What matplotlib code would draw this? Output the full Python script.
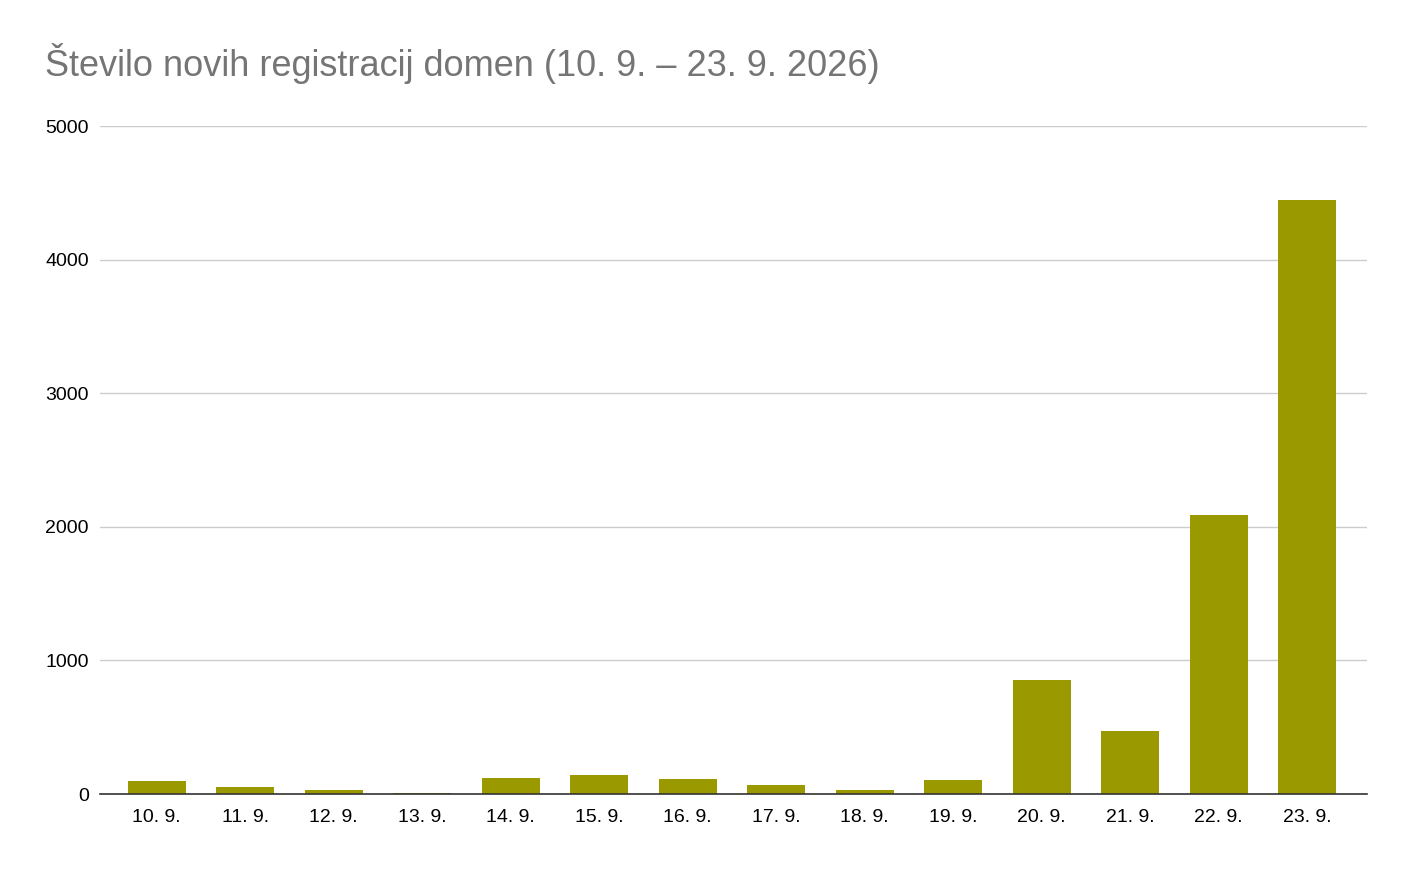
import matplotlib
matplotlib.use('Agg')
import matplotlib.pyplot as plt
import numpy as np

plt.rcParams['font.family'] = ['Liberation Sans', 'DejaVu Sans']

# data
days = ['10. 9.', '11. 9.', '12. 9.', '13. 9.', '14. 9.', '15. 9.', '16. 9.',
        '17. 9.', '18. 9.', '19. 9.', '20. 9.', '21. 9.', '22. 9.', '23. 9.']
registrations = [97, 52, 30, 7, 120, 142, 112, 67, 30, 105, 853, 474, 2090, 4446]
y_ticks = [0, 1000, 2000, 3000, 4000, 5000]

BAR_COLOR = '#9a9a00'
TITLE = 'Število novih registracij domen (10. 9. – 23. 9. 2026)'

fig = plt.figure(figsize=(14.11, 8.72), dpi=100)
ax = fig.add_axes([0.0709, 0.0894, 0.969 - 0.0709, 0.8555 - 0.0894])

x = np.arange(len(days))
ax.bar(x, registrations, width=0.655, color=BAR_COLOR, zorder=3)

ax.set_xlim(-0.64, len(days) - 1 + 0.68)
ax.set_ylim(0, 5000)
ax.set_xticks(x)
ax.set_xticklabels(days)
ax.set_yticks(y_ticks)
ax.tick_params(axis='both', length=0, labelsize=14, colors='#000000')
ax.tick_params(axis='y', pad=8)
ax.tick_params(axis='x', pad=11)

ax.grid(axis='y', color='#cccccc', linewidth=1, zorder=0)
for side in ['top', 'right', 'left']:
    ax.spines[side].set_visible(False)
ax.spines['bottom'].set_color('#333333')
ax.spines['bottom'].set_linewidth(1.2)
ax.spines['bottom'].set_zorder(4)

fig.text(45 / 1411, 1 - 64 / 872, TITLE, fontsize=26, color='#757575',
         ha='left', va='center')

fig.savefig('out.png', dpi=100, facecolor='white')
